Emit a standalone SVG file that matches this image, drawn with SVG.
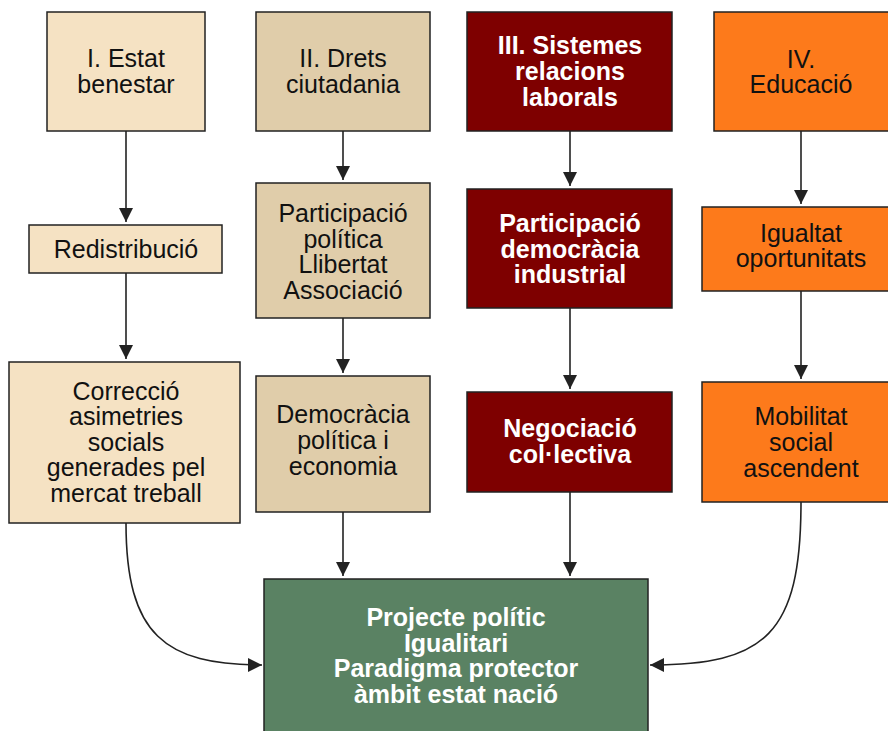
<svg xmlns="http://www.w3.org/2000/svg" width="888" height="731" viewBox="0 0 888 731">
<style>
.box{stroke:#222;stroke-width:1.5}
.c1{fill:#F5E2C3}
.c2{fill:#E0CDAA}
.c3{fill:#7E0000}
.c4{fill:#FD7A1B}
.c5{fill:#5A8263}
text{font-family:"Liberation Sans",Arial,sans-serif;font-size:25px;text-anchor:middle;fill:#111}
.w{fill:#fff;font-weight:bold}
.conn{fill:none;stroke:#222;stroke-width:1.6;marker-end:url(#ah)}
</style>
<defs>
<marker id="ah" markerUnits="userSpaceOnUse" viewBox="0 0 14 14" markerWidth="14" markerHeight="14" refX="14" refY="7" orient="auto">
<path d="M0,0 L14,7 L0,14 z" fill="#222"/>
</marker>
</defs>
<rect width="888" height="731" fill="#fff"/>
<g id="connectors">
<line class="conn" x1="126" y1="131" x2="126" y2="222"/>
<line class="conn" x1="126" y1="273" x2="126" y2="359"/>
<line class="conn" x1="343" y1="131" x2="343" y2="180"/>
<line class="conn" x1="343" y1="318" x2="343" y2="373"/>
<line class="conn" x1="343" y1="512" x2="343" y2="576"/>
<line class="conn" x1="570" y1="131" x2="570" y2="186"/>
<line class="conn" x1="570" y1="308" x2="570" y2="389"/>
<line class="conn" x1="570" y1="492" x2="570" y2="576"/>
<line class="conn" x1="801" y1="131" x2="801" y2="204"/>
<line class="conn" x1="801" y1="291" x2="801" y2="379"/>
<path class="conn" d="M126,523 C126,635 165,665 262,665"/>
<path class="conn" d="M801,502 C801,635 765,665 650,665"/>
</g>
<g id="n1"><rect class="box c1" x="47" y="12" width="158" height="119"/><text x="126" y="67">I. Estat</text><text x="126" y="93">benestar</text></g>
<g id="n2"><rect class="box c2" x="256" y="12" width="174" height="119"/><text x="343" y="67">II. Drets</text><text x="343" y="93">ciutadania</text></g>
<g id="n3"><rect class="box c3" x="467" y="12" width="205" height="119"/><text class="w" x="570" y="54">III. Sistemes</text><text class="w" x="570" y="80">relacions</text><text class="w" x="570" y="106">laborals</text></g>
<g id="n4"><rect class="box c4" x="714" y="12" width="180" height="119"/><text x="801" y="68">IV.</text><text x="801" y="93">Educació</text></g>
<g id="n5"><rect class="box c1" x="29" y="225" width="193" height="48"/><text x="126" y="258">Redistribució</text></g>
<g id="n6"><rect class="box c2" x="256" y="183" width="174" height="135"/><text x="343" y="222">Participació</text><text x="343" y="248">política</text><text x="343" y="273">Llibertat</text><text x="343" y="299">Associació</text></g>
<g id="n7"><rect class="box c3" x="467" y="189" width="205" height="119"/><text class="w" x="570" y="232">Participació</text><text class="w" x="570" y="258">democràcia</text><text class="w" x="570" y="283">industrial</text></g>
<g id="n8"><rect class="box c4" x="702" y="207" width="200" height="84"/><text x="801" y="242">Igualtat</text><text x="801" y="267">oportunitats</text></g>
<g id="n9"><rect class="box c1" x="9" y="362" width="231" height="161"/><text x="126" y="400">Correcció</text><text x="126" y="425">asimetries</text><text x="126" y="451">socials</text><text x="126" y="476">generades pel</text><text x="126" y="502">mercat treball</text></g>
<g id="n10"><rect class="box c2" x="256" y="376" width="174" height="136"/><text x="343" y="423">Democràcia</text><text x="343" y="449">política i</text><text x="343" y="475">economia</text></g>
<g id="n11"><rect class="box c3" x="467" y="392" width="205" height="100"/><text class="w" x="570" y="437">Negociació</text><text class="w" x="570" y="463">col·lectiva</text></g>
<g id="n12"><rect class="box c4" x="702" y="382" width="200" height="120"/><text x="801" y="425">Mobilitat</text><text x="801" y="451">social</text><text x="801" y="477">ascendent</text></g>
<g id="n13"><rect class="box c5" x="264" y="579" width="384" height="170"/><text class="w" x="456" y="626">Projecte polític</text><text class="w" x="456" y="652">Igualitari</text><text class="w" x="456" y="677">Paradigma protector</text><text class="w" x="456" y="703">àmbit estat nació</text></g>
</svg>
